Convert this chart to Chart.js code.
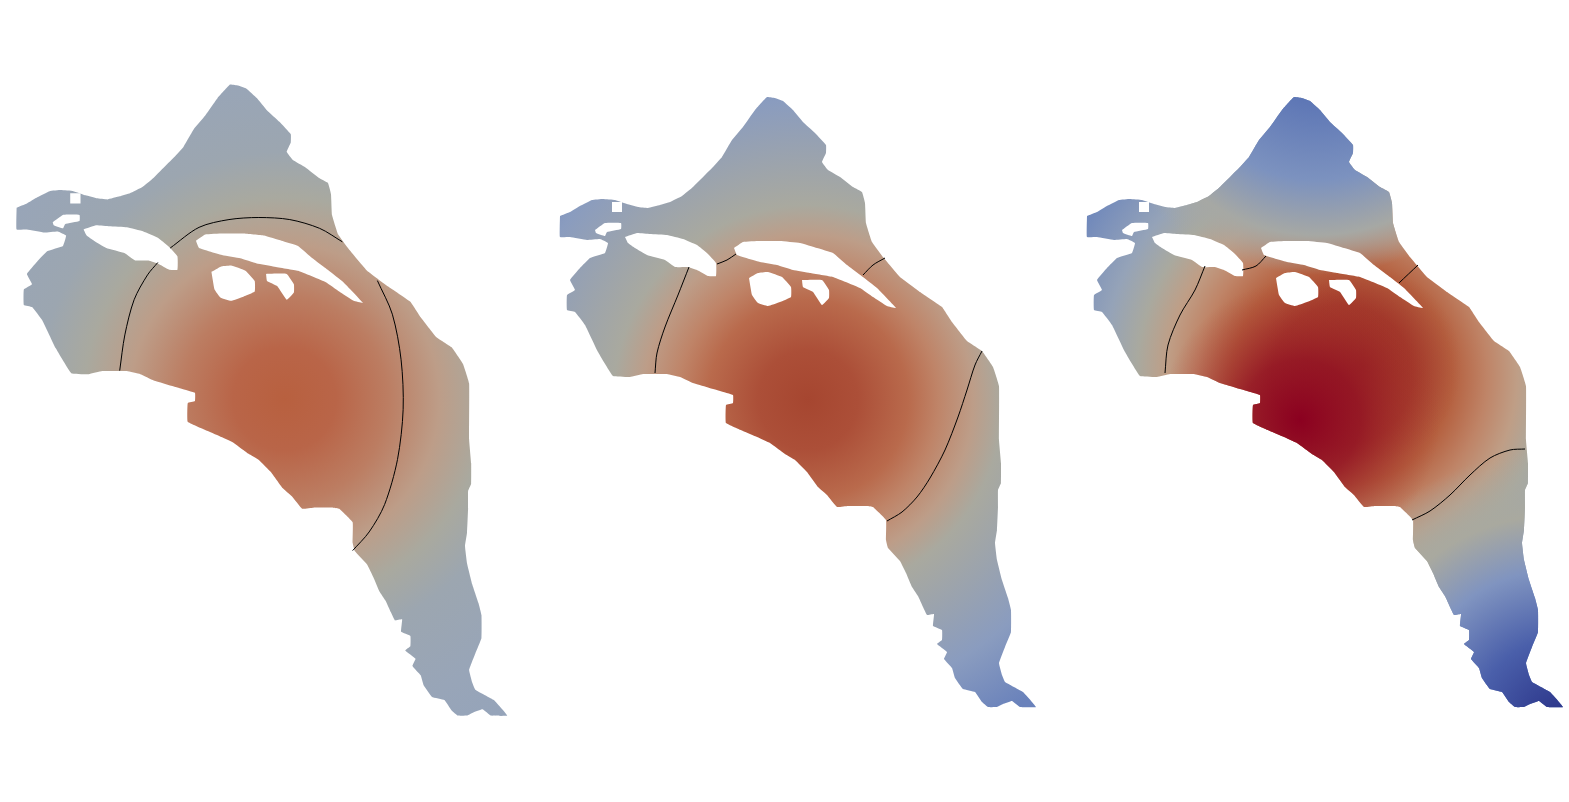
<!DOCTYPE html>
<html lang="en">

<head>
    <meta name="viewport" content="width=device-width, initial-scale=1.0" />
    <title>Field maps</title>
    <style>
        * {
            padding: 0;
            margin: 0;
            box-sizing: border-box;
        }
        body {
            width: 1569px;
            height: 802px;
            background: #fff;
            overflow: hidden;
            position: relative;
        }
        canvas {
            position: absolute;
        }
    </style>
</head>

<body>
    <canvas id="mapA"></canvas>
    <canvas id="mapB"></canvas>
    <canvas id="mapC"></canvas>
    <script src="https://cdnjs.cloudflare.com/ajax/libs/Chart.js/4.4.1/chart.umd.min.js"></script>
    <script>
        // all shapes share one coordinate system, each map only has its own frame
        const coast = [
            [560,216],[570,212],[580,206],[592,200],[603,199],[615,200],[627,204],[638,207],[648,208],[660,205],
            [670,202],[682,196],[693,187],[705,175],[713,167],[722,157],[732,140],[743,127],[755,110],[767,97],
            [775,98],[783,101],[793,110],[803,122],[815,133],[826,145],[826,153],[822,162],[828,170],[840,177],
            [853,187],[862,192],[865,203],[866,223],[872,242],[883,257],[900,277],[920,292],[942,307],[952,322],
            [967,341],[982,351],[993,367],[999,386],[999,440],[1001,463],[1001,483],[998,490],[998,507],[997,530],
            [995,543],[997,560],[1002,580],[1008,598],[1011,610],[1011,632],[1005,647],[999,663],[1002,675],[1005,682],
            [1023,692],[1036,707],[1020,707],[1012,701],[1003,704],[997,707],[988,707],[982,702],[975,692],[963,689],
            [955,678],[952,668],[944,659],[947,652],[937,644],[942,640],[942,630],[933,626],[934,614],[927,615],
            [923,607],[918,596],[912,587],[906,573],[900,561],[888,548],[886,540],[886,520],[873,507],[867,506],
            [848,506],[837,507],[827,495],[818,487],[807,472],[795,460],[785,454],[770,443],[757,437],[743,431],
            [726,423],[726,405],[733,403],[733,395],[720,391],[693,383],[680,377],[667,374],[643,374],[630,377],
            [613,376],[598,352],[585,325],[575,312],[567,310],[567,295],[575,290],[570,280],[580,268],[590,258],
            [605,253],[608,243],[600,239],[587,240],[570,237],[560,237],[560,216]
        ];
        const holeSquare = [[612,202],[622,202],[622,212],[612,212],[612,202]];
        const holeSmall = [[595,230],[605,223],[621,223],[621,229],[607,232],[605,236],[596,233],[595,230]];
        const holeWest = [
            [625,237],[637,233],[650,234],[667,235],[683,239],[697,245],[707,253],[716,263],[716,276],[708,276],
            [697,270],[688,267],[675,267],[665,260],[647,255],[635,248],[628,243],[625,237]
        ];
        const holeEast = [
            [734,248],[743,242],[760,241],[780,241],[800,243],[817,248],[833,253],[847,265],[863,277],[877,288],
            [896,308],[887,306],[873,297],[860,288],[833,277],[810,273],[793,270],[777,265],[760,262],[737,255],[734,248]
        ];
        const holeRound = [
            [749,278],[758,273],[768,272],[782,277],[791,287],[791,297],[780,302],[768,306],[758,303],[752,295],[749,278]
        ];
        const holeTail = [[802,280],[822,280],[829,290],[829,298],[822,305],[813,292],[803,287],[802,280]];
        const holes = [holeSquare, holeSmall, holeWest, holeEast, holeRound, holeTail];

        const contoursA = [
            [[660,373.5],[665,339],[674,305],[687,281],[697,269]],
            [[709,255],[737,235],[766,227.5],[795,225.5],[825,227.5],[854,236],[876,249]],
            [[910,286.5],[924.5,319],[933,363],[935,411],[929.5,459.5],[917,503],[902,529.5],[886,547.5]]
        ];
        const contoursB = [
            [[655,373],[657,353],[665,327],[678,295],[689,267]],
            [[717,264],[727,260],[736,254]],
            [[863,275],[873,265],[885,258]],
            [[982,351],[975,365],[967,390],[958,417],[945,450],[930,478],[917,497],[902,512],[887,521]]
        ];
        const contoursC = [
            [[638,373],[641,345],[653,315],[668,290],[678,266]],
            [[715,270],[729,266],[739,256]],
            [[872,283],[891,265]],
            [[885,520],[903,511],[923,495],[943,475],[963,458],[983,450],[998,449]]
        ];

        // gradient layers of each map, painted in this order
        const layersA = [
            { c: [820, 401], stops: [[0, "#b8603f"], [50, "#b96548"], [100, "#bc7d62"], [150, "#bd9d88"], [195, "#a9a99f"], [240, "#9ca6b0"], [320, "#98a5b8"], [420, "#93a3bb"]] }
        ];
        const layersB = [
            { c: [808, 400], stops: [[0, "#a64630"], [50, "#ac4f38"], [100, "#b96a4c"], [130, "#bf8468"], [165, "#bd9d88"], [195, "#a9a99f"], [300, "#8a9cbf"], [370, "#6a82bb"], [420, "#6a82bb"]] }
        ];
        const layersC = [
            { c: [815, 375], stops: [[0, "#a53a28"], [70, "#a8412e"], [110, "#b5603f"], [145, "#bf8467"], [175, "#bf9e86"], [205, "#a9a99f"], [240, "#95a3b8"], [310, "#6a84bc"], [400, "#5a72b5"]] },
            { c: [790, 40], stops: [[0, "#5c75b5"], [57, "#5c75b5"], [140, "#7c92bf"], [195, "#a6a8a4"], [235, "rgba(166,168,164,0)"]] },
            { c: [1030, 720], stops: [[0, "#2a3388"], [80, "#4a5faa"], [150, "#8094c0"], [205, "#a9a99f"], [270, "rgba(169,169,159,0)"]] },
            { c: [835, 365], stops: [[0, "rgba(140,20,30,0.55)"], [100, "rgba(150,40,35,0)"]] },
            { c: [773, 420], stops: [[0, "rgba(139,0,32,1)"], [60, "rgba(145,15,35,0.75)"], [140, "rgba(170,60,45,0)"]] }
        ];

        const toPoints = (pts) => pts.map(([x, y]) => ({ x: x, y: y }));

        const makeGradient = (layer) => (context) => {
            const chart = context.chart;
            const sx = chart.scales.x;
            const sy = chart.scales.y;
            if (!sx || !sy) return "transparent";
            const cx = sx.getPixelForValue(layer.c[0]);
            const cy = sy.getPixelForValue(layer.c[1]);
            const last = layer.stops[layer.stops.length - 1][0];
            const r = sx.getPixelForValue(layer.c[0] + last) - cx;
            if (!Number.isFinite(cx) || !Number.isFinite(cy) || !Number.isFinite(r)) return "transparent";
            const g = chart.ctx.createRadialGradient(cx, cy, 0, cx, cy, r);
            layer.stops.forEach(([d, col]) => g.addColorStop(d / last, col));
            return g;
        };

        const drawMap = (id, frame, layers, contours) => {
            const canvas = document.getElementById(id);
            canvas.width = frame.width;
            canvas.height = frame.height;
            canvas.style.left = frame.left + "px";
            canvas.style.top = frame.top + "px";

            const sets = [];
            layers.forEach((layer) => {
                sets.push({
                    data: toPoints(coast),
                    fill: "shape",
                    backgroundColor: makeGradient(layer),
                    borderWidth: 0,
                    tension: 0.08,
                    pointRadius: 0,
                });
            });
            holes.forEach((hole) => {
                sets.push({
                    data: toPoints(hole),
                    fill: "shape",
                    backgroundColor: "#ffffff",
                    borderWidth: 0,
                    tension: hole === holeSquare ? 0 : 0.1,
                    pointRadius: 0,
                });
            });
            contours.forEach((line) => {
                sets.push({
                    data: toPoints(line),
                    fill: false,
                    borderColor: "#000000",
                    borderWidth: 1,
                    tension: 0.3,
                    pointRadius: 0,
                });
            });

            // chart.js paints the first dataset last
            return new Chart(canvas, {
                type: "line",
                data: { datasets: sets.reverse() },
                options: {
                    responsive: false,
                    animation: false,
                    layout: { padding: 0 },
                    plugins: { legend: { display: false }, tooltip: { enabled: false } },
                    scales: {
                        x: { type: "linear", display: false, min: 540, max: 1060 },
                        y: { type: "linear", display: false, min: 80, max: 720, reverse: true },
                    },
                },
            });
        };

        drawMap("mapA", { left: -4, top: 67, width: 536, height: 662 }, layersA, contoursA);
        drawMap("mapB", { left: 540, top: 80, width: 520, height: 640 }, layersB, contoursB);
        drawMap("mapC", { left: 1067, top: 80, width: 520, height: 640 }, layersC, contoursC);
    </script>
</body>

</html>
